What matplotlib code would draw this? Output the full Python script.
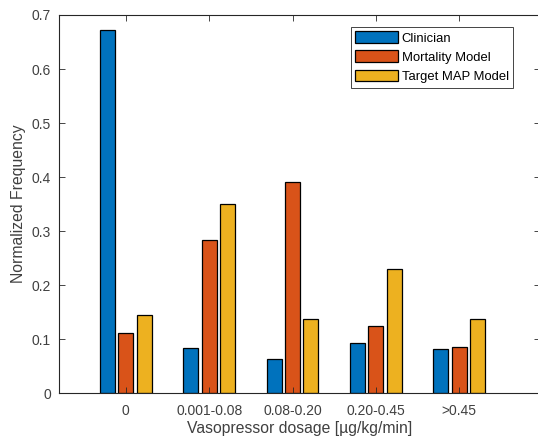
import numpy as np
import matplotlib
matplotlib.use('Agg')
import matplotlib.pyplot as plt

plt.rcParams['font.family'] = ['Liberation Sans', 'DejaVu Sans']

categories = ['0', '0.001-0.08', '0.08-0.20', '0.20-0.45', '>0.45']
clinician = [0.673, 0.084, 0.064, 0.094, 0.082]
mortality = [0.112, 0.283, 0.391, 0.125, 0.086]
target_map = [0.145, 0.351, 0.138, 0.230, 0.138]

series = [('Clinician', clinician, '#0072BD'),
          ('Mortality Model', mortality, '#D95319'),
          ('Target MAP Model', target_map, '#EDB120')]

fig = plt.figure(figsize=(5.38, 4.4), dpi=100)
ax = fig.add_axes([0.110, 0.106, 0.894, 0.860])

x = np.arange(1, len(categories) + 1)
offsets = [-0.22, 0.0, 0.22]
for (name, vals, col), off in zip(series, offsets):
    ax.bar(x + off, vals, width=0.18, color=col, edgecolor='black',
           linewidth=0.9, label=name)

ax.set_xlim(0.2, 5.97)
ax.set_ylim(0, 0.7)
ax.set_xticks(x)
ax.set_xticklabels(categories)
ax.set_yticks(np.arange(0, 0.71, 0.1))
ax.set_yticklabels(['0', '0.1', '0.2', '0.3', '0.4', '0.5', '0.6', '0.7'])

gray = '#262626'
for sp in ax.spines.values():
    sp.set_color(gray)
    sp.set_linewidth(0.8)
ax.tick_params(direction='in', top=True, right=True, length=4,
               width=0.6, colors=gray, labelsize=10, pad=6)
ax.tick_params(axis='x', pad=8)
for lbl in ax.get_xticklabels() + ax.get_yticklabels():
    lbl.set_color('#404040')

ax.set_xlabel('Vasopressor dosage [µg/kg/min]', fontsize=11.3, color='#404040', labelpad=2)
ax.set_ylabel('Normalized Frequency', fontsize=11.3, color='#404040', labelpad=4)

leg = ax.legend(loc='upper right', bbox_to_anchor=(0.944, 0.969), fontsize=9.4,
                fancybox=False, framealpha=1, edgecolor=gray,
                handlelength=3.3, handleheight=1.0, handletextpad=0.25,
                borderpad=0.35, labelspacing=0.45, borderaxespad=0)
leg.get_frame().set_linewidth(0.6)

fig.savefig('out.png', dpi=100)
